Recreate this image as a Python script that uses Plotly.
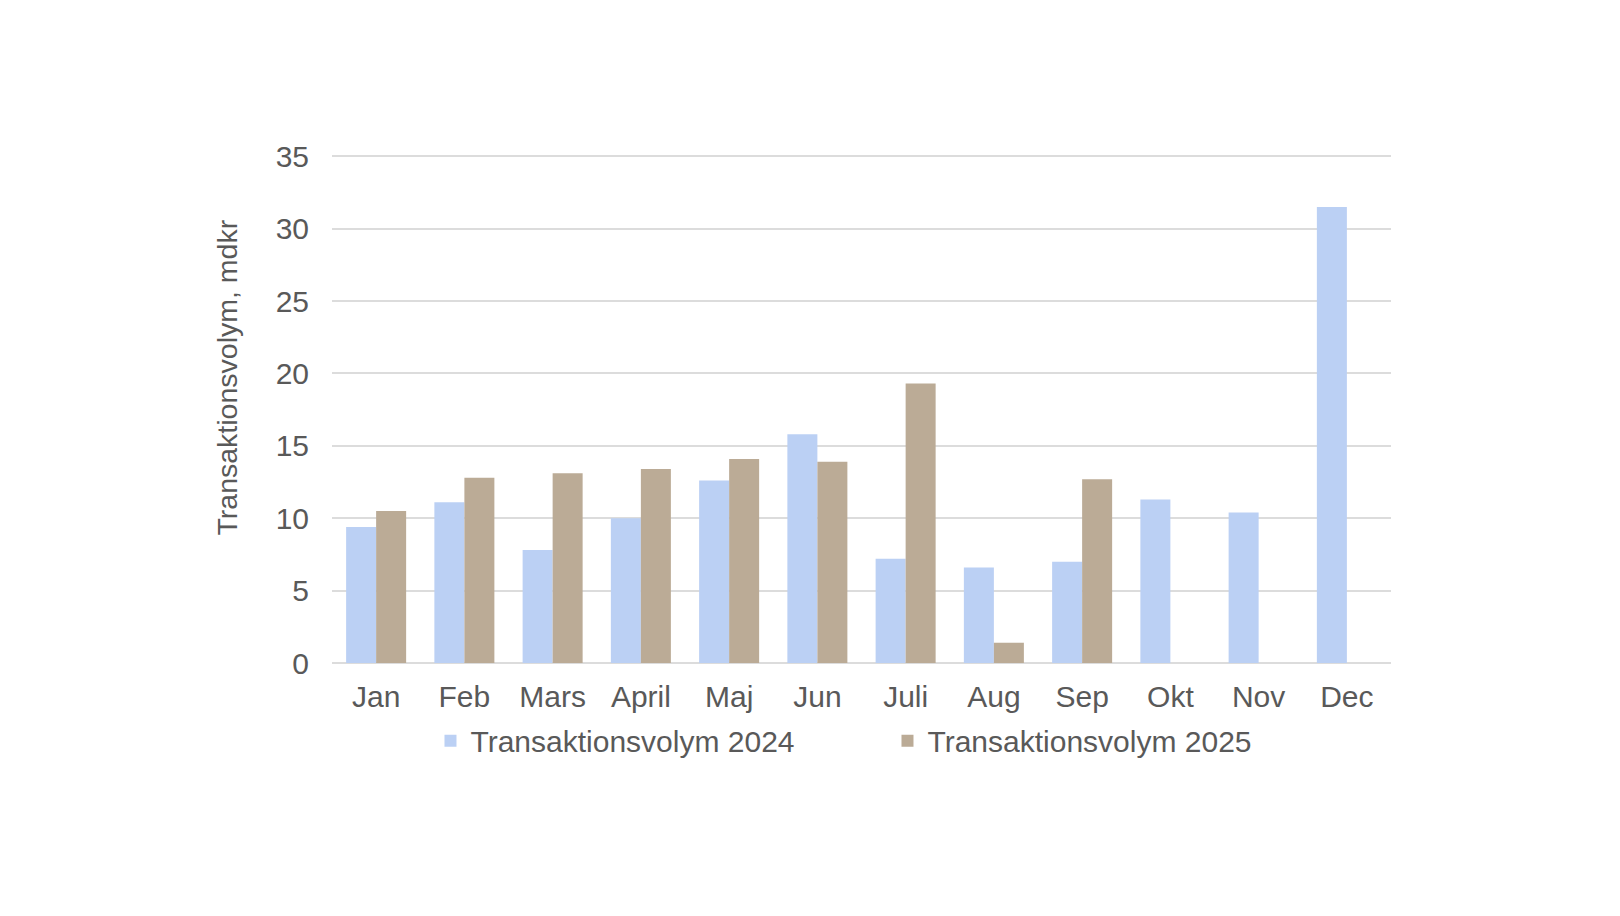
import plotly.graph_objects as go

months = ["Jan", "Feb", "Mars", "April", "Maj", "Jun", "Juli", "Aug", "Sep", "Okt", "Nov", "Dec"]
vol_2024 = [9.4, 11.1, 7.8, 10.0, 12.6, 15.8, 7.2, 6.6, 7.0, 11.3, 10.4, 31.5]
vol_2025 = [10.5, 12.8, 13.1, 13.4, 14.1, 13.9, 19.3, 1.4, 12.7, None, None, None]
name_2024 = "Transaktionsvolym 2024"
name_2025 = "Transaktionsvolym 2025"
y_title = "Transaktionsvolym, mdkr"

FONT = "Liberation Sans, Arial, sans-serif"
TXT = "#595959"

fig = go.Figure()
fig.add_trace(go.Bar(x=months, y=vol_2024, name=name_2024,
                     marker=dict(color="#BBD0F4", line=dict(width=0))))
fig.add_trace(go.Bar(x=months, y=vol_2025, name=name_2025,
                     marker=dict(color="#BBAB96", line=dict(width=0))))

fig.add_annotation(text=y_title, xref="paper", yref="paper", x=-0.0992, y=0.5585,
                   xanchor="center", yanchor="middle", textangle=-90, showarrow=False,
                   font=dict(family=FONT, size=28.5, color=TXT))

fig.update_layout(
    width=1620, height=916,
    paper_bgcolor="white", plot_bgcolor="white",
    margin=dict(l=324, r=237, t=144, b=261),
    barmode="group", bargap=0.32, bargroupgap=0,
    font=dict(family=FONT, size=30, color=TXT),
    showlegend=True,
    legend=dict(orientation="h", x=0.093, xanchor="left", y=-0.152, yanchor="middle",
                font=dict(size=30, color=TXT), entrywidth=412, entrywidthmode="pixels",
                bgcolor="rgba(0,0,0,0)"),
    xaxis=dict(showgrid=False, showline=False, zeroline=False, ticks="",
               tickfont=dict(size=30, color=TXT), ticklabelstandoff=13),
    yaxis=dict(range=[0, 35.3], tickvals=[0, 5, 10, 15, 20, 25, 30, 35],
               showgrid=True, gridcolor="#DCDCDC", gridwidth=2,
               zeroline=True, zerolinecolor="#DCDCDC", zerolinewidth=2,
               showline=False, ticks="", tickfont=dict(size=30, color=TXT),
               ticklabelstandoff=22),
)

fig.write_html("out.html")
